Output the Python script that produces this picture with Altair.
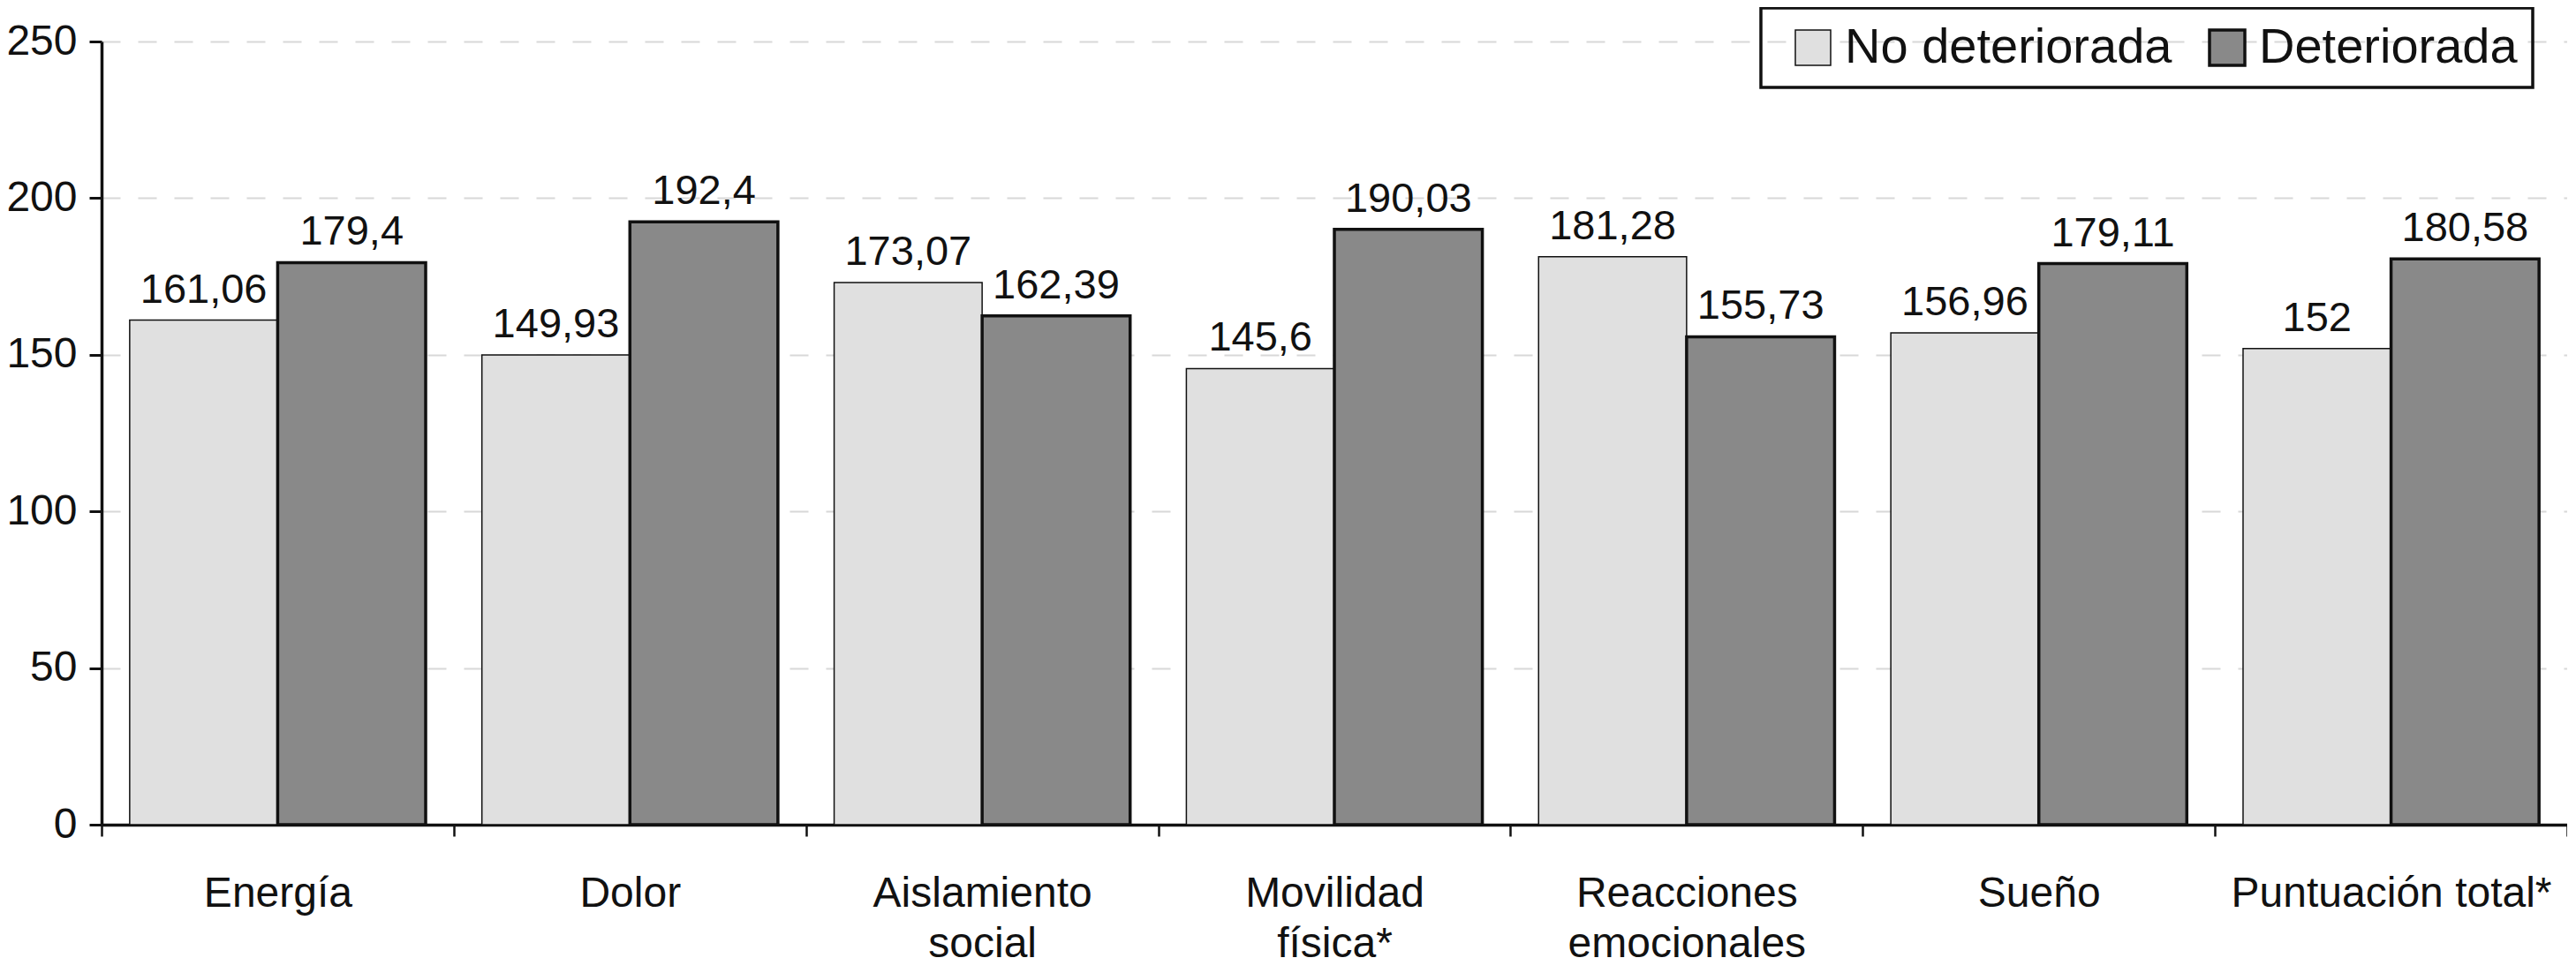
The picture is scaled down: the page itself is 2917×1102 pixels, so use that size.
import altair as alt
import pandas as pd

categories = ["Energía", "Dolor", "Aislamiento\nsocial", "Movilidad\nfísica*",
              "Reacciones\nemocionales", "Sueño", "Puntuación total*"]
groups = ["No deteriorada", "Deteriorada"]
no_deteriorada = [161.06, 149.93, 173.07, 145.6, 181.28, 156.96, 152]
deteriorada = [179.4, 192.4, 162.39, 190.03, 155.73, 179.11, 180.58]
y_ticks = [0, 50, 100, 150, 200, 250]

rows = []
for c, a, b in zip(categories, no_deteriorada, deteriorada):
    for g, v in ((groups[0], a), (groups[1], b)):
        rows.append({"cat": c, "grupo": g, "valor": v,
                     "etiqueta": f"{v:g}".replace(".", ",")})
df = pd.DataFrame(rows)

FONT = "Liberation Sans, Arial, Helvetica, sans-serif"
INK = "#111111"

x = alt.X("cat:N", sort=categories, title=None,
          scale=alt.Scale(paddingInner=0, paddingOuter=0),
          axis=alt.Axis(labelAngle=0, tickBand="extent", labelFontSize=48,
                        labelColor=INK, labelFont=FONT, labelLineHeight=57,
                        labelPadding=41, tickSize=13, tickWidth=2.5,
                        tickColor=INK, domainColor=INK, domainWidth=3.5,
                        labelExpr="split(datum.label, '\\n')", grid=False,
                        labelBaseline="top", labelLimit=1000))
xo = alt.XOffset("grupo:N", sort=groups,
                 scale=alt.Scale(domain=groups, paddingInner=0, paddingOuter=0.19))
y = alt.Y("valor:Q", title=None,
          scale=alt.Scale(domain=[0, 250], nice=False),
          axis=alt.Axis(values=y_ticks, labelFontSize=48, labelColor=INK,
                        labelFont=FONT, labelPadding=14, tickSize=14,
                        tickWidth=3, tickColor=INK, domainColor=INK,
                        domainWidth=3.5, grid=True, gridColor="#d8d8d8",
                        gridWidth=2, gridDash=[21, 20]))

bars = alt.Chart(df).mark_bar(stroke=INK).encode(
    x=x, xOffset=xo, y=y,
    fill=alt.Fill("grupo:N", sort=groups,
                  scale=alt.Scale(domain=groups, range=["#e0e0e0", "#898989"]),
                  legend=alt.Legend(title=None, orient="none", legendX=1879,
                                    legendY=-38, direction="horizontal",
                                    symbolType="square", symbolSize=1600,
                                    symbolStrokeColor=INK, symbolStrokeWidth=3,
                                    labelFontSize=56, labelFont=FONT,
                                    labelColor=INK, labelOffset=8,
                                    columnPadding=20, padding=17,
                                    symbolOffset=14, strokeColor=INK,
                                    labelLimit=1000)),
    strokeWidth=alt.StrokeWidth("grupo:N", sort=groups,
                                scale=alt.Scale(domain=groups, range=[1.5, 3.5]),
                                legend=None),
)

labels = alt.Chart(df).mark_text(baseline="alphabetic", dy=-20, fontSize=47,
                                 font=FONT, color=INK).encode(
    x=alt.X("cat:N", sort=categories), xOffset=xo, y="valor:Q",
    text="etiqueta:N")

chart = (bars + labels).properties(
    width=2792, height=887,
    autosize=alt.AutoSizeParams(type="none"),
    padding={"left": 107, "top": 39, "right": 0, "bottom": 160},
).configure_view(stroke=None).configure_legend(strokeWidth=3.5)

chart.save("out.html", embed_options={"renderer": "svg", "actions": False})
